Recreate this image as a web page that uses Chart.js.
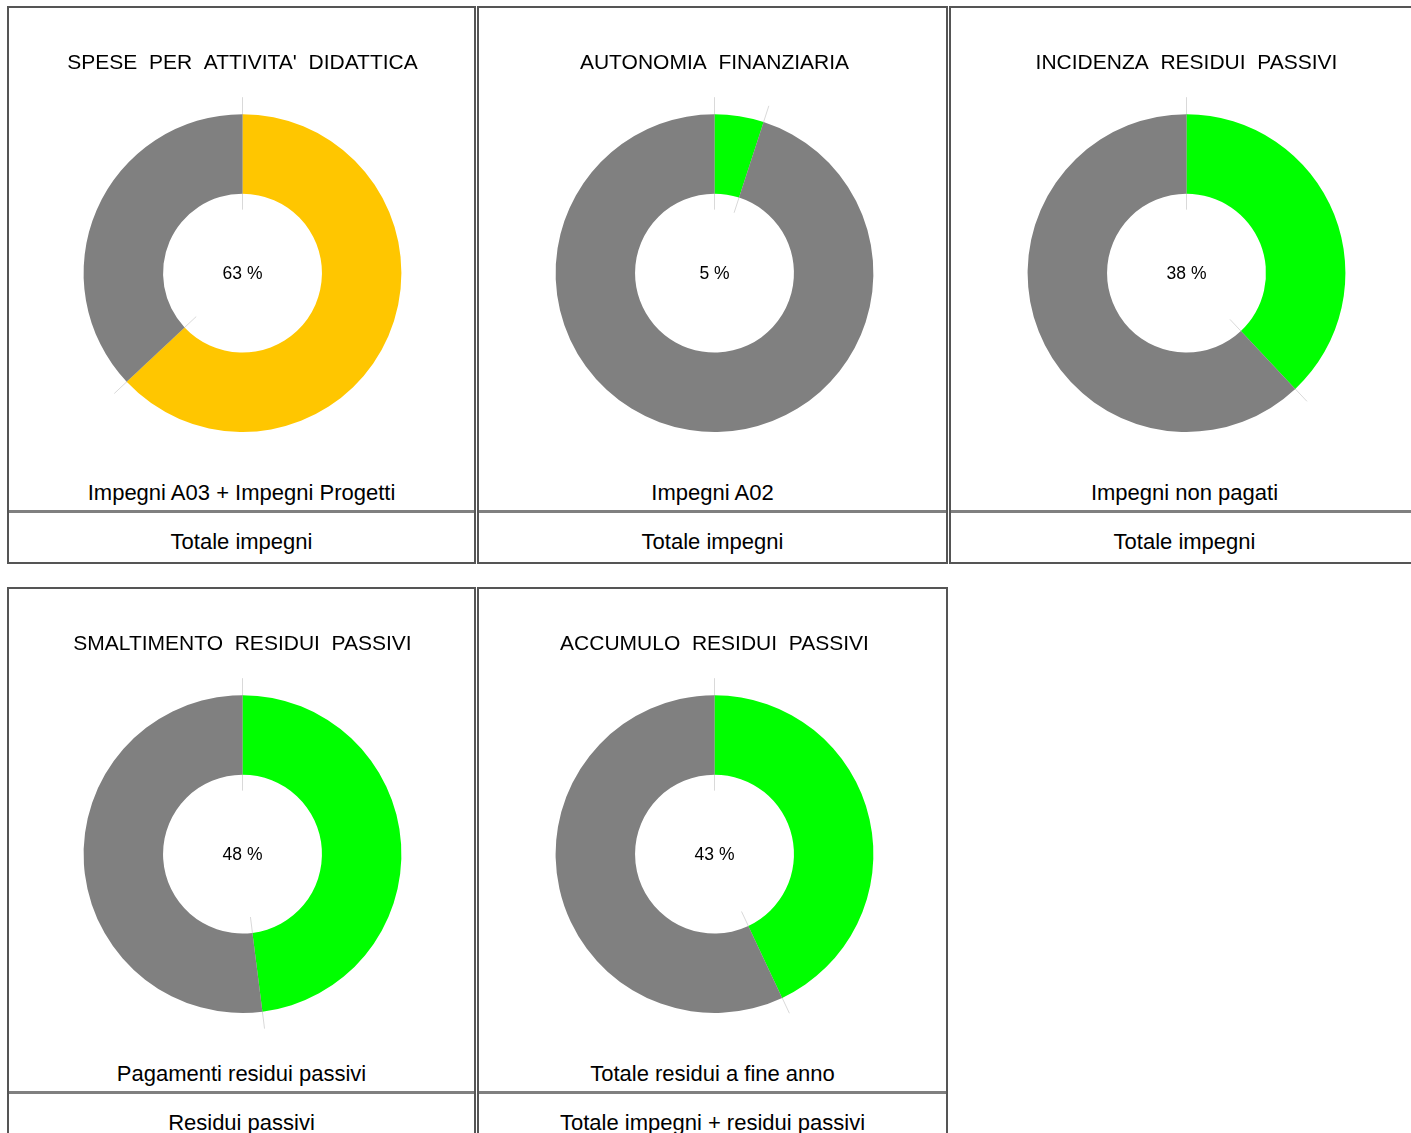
<!DOCTYPE html>
<html>
<head>
<meta charset="utf-8">
<script src="https://cdn.jsdelivr.net/npm/chart.js@4.4.1/dist/chart.umd.min.js"></script>
<style>
  html, body { margin: 0; padding: 0; background: #fff; width: 1411px; height: 1133px; overflow: hidden; }
  .box { position: absolute; box-sizing: border-box; border: 2px solid #555; }
  .sep { position: absolute; height: 3px; background: #808080; }
  .lbl { position: absolute; text-align: center; white-space: pre; font-family: "Liberation Sans", Arial, sans-serif; font-size: 22px; color: #000; height: 44px; line-height: 44px; }
  canvas { position: absolute; }
</style>
</head>
<body>
<div id="page"></div>
<script>
// chart values
const titles = ["SPESE  PER  ATTIVITA'  DIDATTICA", "AUTONOMIA  FINANZIARIA", "INCIDENZA  RESIDUI  PASSIVI",
                "SMALTIMENTO  RESIDUI  PASSIVI", "ACCUMULO  RESIDUI  PASSIVI"];
const numerators = ["Impegni A03 + Impegni Progetti", "Impegni A02", "Impegni non pagati",
                    "Pagamenti residui passivi", "Totale residui a fine anno"];
const denominators = ["Totale impegni", "Totale impegni", "Totale impegni",
                      "Residui passivi", "Totale impegni + residui passivi"];
const percentages = [63, 5, 38, 48, 43];
const mainColors = ['#FFC600', '#00FF00', '#00FF00', '#00FF00', '#00FF00'];
const restColor = '#808080';

// layout of the panels
const colX = [7, 477, 949];
const colW = [469, 471, 471];
const colPad = [2, 4, 4];
const rowY = [6, 587];

const font = "'Liberation Sans', Arial, sans-serif";

// thin light lines at the slice boundaries, drawn under the ring
const leaderLines = {
  id: 'leaderLines',
  beforeDatasetsDraw(chart) {
    const ctx = chart.ctx;
    ctx.save();
    ctx.strokeStyle = '#d9d9d9';
    ctx.lineWidth = 1;
    chart.getDatasetMeta(0).data.forEach(arc => {
      const a = arc.startAngle;
      const r0 = arc.innerRadius - 16, r1 = arc.outerRadius + 17;
      ctx.beginPath();
      ctx.moveTo(arc.x + Math.cos(a) * r0, arc.y + Math.sin(a) * r0);
      ctx.lineTo(arc.x + Math.cos(a) * r1, arc.y + Math.sin(a) * r1);
      ctx.stroke();
    });
    ctx.restore();
  }
};

// percentage in the hole
const centerText = {
  id: 'centerText',
  afterDatasetsDraw(chart, args, opts) {
    const arc = chart.getDatasetMeta(0).data[0];
    const ctx = chart.ctx;
    ctx.save();
    ctx.fillStyle = '#000';
    ctx.font = '17.5px ' + font;
    ctx.textAlign = 'center';
    ctx.textBaseline = 'middle';
    ctx.fillText(opts.text, arc.x, arc.y + 1.5);
    ctx.restore();
  }
};

const page = document.getElementById('page');

percentages.forEach((p, i) => {
  const col = i % 3;
  const x = colX[col], w = colW[col], y = rowY[Math.floor(i / 3)];

  const box = document.createElement('div');
  box.className = 'box';
  Object.assign(box.style, { left: x + 'px', top: y + 'px', width: w + 'px', height: '558px' });
  page.appendChild(box);

  const sep = document.createElement('div');
  sep.className = 'sep';
  Object.assign(sep.style, { left: (x + 2) + 'px', top: (y + 504) + 'px', width: (w - 4) + 'px' });
  page.appendChild(sep);

  const num = document.createElement('div');
  num.className = 'lbl';
  num.textContent = numerators[i];
  Object.assign(num.style, { left: (x + 2) + 'px', top: (y + 465) + 'px', width: (w - 4) + 'px' });
  page.appendChild(num);

  const den = document.createElement('div');
  den.className = 'lbl';
  den.textContent = denominators[i];
  Object.assign(den.style, { left: (x + 2) + 'px', top: (y + 514) + 'px', width: (w - 4) + 'px' });
  page.appendChild(den);

  const canvas = document.createElement('canvas');
  canvas.width = w - 4;
  canvas.height = 456;
  Object.assign(canvas.style, { left: (x + 2) + 'px', top: (y + 2) + 'px' });
  page.appendChild(canvas);

  new Chart(canvas.getContext('2d'), {
    type: 'doughnut',
    data: {
      labels: [numerators[i], 'Altro'],
      datasets: [{
        data: [p, 100 - p],
        backgroundColor: [mainColors[i], restColor],
        borderWidth: 0
      }]
    },
    options: {
      responsive: false,
      animation: false,
      devicePixelRatio: 1,
      cutout: '50%',
      layout: { padding: { bottom: 32, left: colPad[col] } },
      plugins: {
        legend: { display: false },
        tooltip: { enabled: false },
        title: {
          display: true,
          text: titles[i],
          color: '#000',
          font: { family: font, size: 21, weight: 'normal', lineHeight: 1.2 },
          padding: { top: 43, bottom: 38 }
        },
        centerText: { text: p + ' %' }
      }
    },
    plugins: [leaderLines, centerText]
  });
});
</script>
</body>
</html>
